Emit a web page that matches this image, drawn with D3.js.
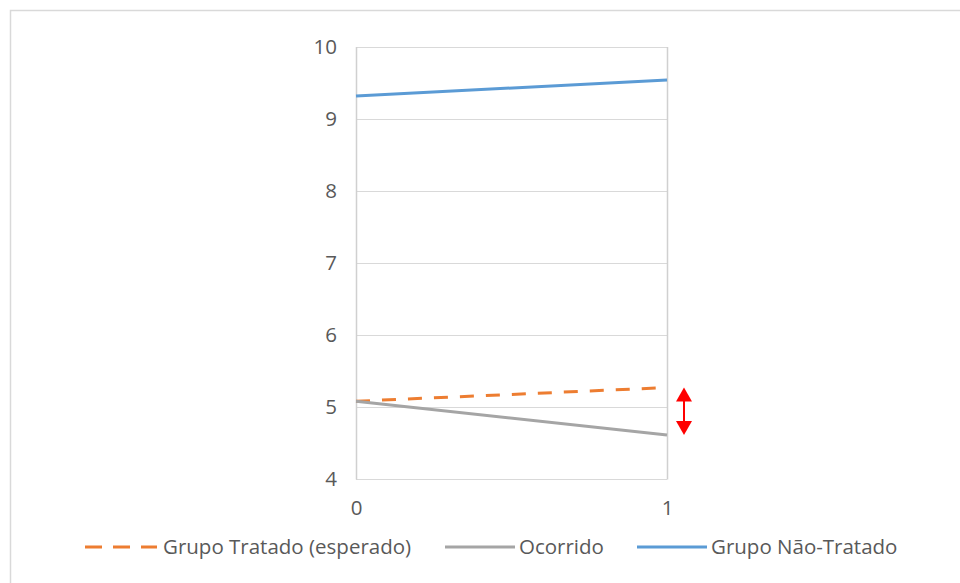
<!DOCTYPE html>
<html>
<head>
<meta charset="utf-8">
<script src="https://cdn.jsdelivr.net/npm/d3@7"></script>
<style>
  html, body { margin: 0; padding: 0; background: #fff; }
  svg { display: block; }
  text { font-family: "Open Sans", "Noto Sans", sans-serif; }
</style>
</head>
<body>
<svg id="chart" width="960" height="583"></svg>
<script>
// Periods on the x axis
const periods = [0, 1];
// Series values per period
const tratadoEsperado = [5.08, 5.27];
const ocorrido = [5.08, 4.61];
const naoTratado = [9.32, 9.54];
// Axis ticks
const yTicks = [4, 5, 6, 7, 8, 9, 10];
const xTicks = [0, 1];

const series = [
  { name: "Grupo Tratado (esperado)", values: tratadoEsperado, color: "#ED7D31", dash: "14,12", legendDash: "17,11" },
  { name: "Ocorrido", values: ocorrido, color: "#A5A5A5", dash: null, legendDash: null },
  { name: "Grupo Não-Tratado", values: naoTratado, color: "#5B9BD5", dash: null, legendDash: null }
];

const fontSize = 20.5;
const textColor = "#595959";

const svg = d3.select("#chart");

// Chart frame (left and top edges)
svg.append("path")
  .attr("d", "M10.5,583 V10.5 H960")
  .attr("fill", "none")
  .attr("stroke", "#d9d9d9")
  .attr("stroke-width", 1.5);

const x = d3.scaleLinear().domain([0, 1]).range([356, 667]);
const y = d3.scaleLinear().domain([4, 10]).range([479, 47]);

// Horizontal gridlines
svg.append("g")
  .selectAll("line")
  .data(yTicks)
  .join("line")
  .attr("x1", x(0)).attr("x2", x(1))
  .attr("y1", d => Math.round(y(d)) + 0.5)
  .attr("y2", d => Math.round(y(d)) + 0.5)
  .attr("stroke", "#d9d9d9")
  .attr("stroke-width", 1);

// Vertical axis lines at both periods
svg.append("g")
  .selectAll("line")
  .data(xTicks)
  .join("line")
  .attr("x1", d => Math.round(x(d)) + 0.5)
  .attr("x2", d => Math.round(x(d)) + 0.5)
  .attr("y1", y(10)).attr("y2", y(4) + 0.5)
  .attr("stroke", "#d0d0d0")
  .attr("stroke-width", 1.5);

// Y tick labels
const yAxis = d3.axisLeft(y).tickValues(yTicks).tickSize(0).tickPadding(19).tickFormat(d3.format("d"));
const gy = svg.append("g").attr("transform", `translate(${x(0)},0)`).call(yAxis);
gy.select(".domain").remove();
gy.selectAll("text")
  .attr("font-size", fontSize)
  .attr("fill", textColor)
  .style("font-family", "'Open Sans', sans-serif");

// X tick labels
const xAxis = d3.axisBottom(x).tickValues(xTicks).tickSize(0).tickPadding(21).tickFormat(d3.format("d"));
const gx = svg.append("g").attr("transform", `translate(0,${y(4)})`).call(xAxis);
gx.select(".domain").remove();
gx.selectAll("text")
  .attr("font-size", fontSize)
  .attr("fill", textColor)
  .style("font-family", "'Open Sans', sans-serif");

// Series lines
const line = d3.line()
  .x((d, i) => x(periods[i]))
  .y(d => y(d));

svg.append("g")
  .selectAll("path")
  .data(series)
  .join("path")
  .attr("d", d => line(d.values))
  .attr("fill", "none")
  .attr("stroke", d => d.color)
  .attr("stroke-width", 3)
  .attr("stroke-dasharray", d => d.dash)
  .attr("stroke-linecap", "butt");

// Double-headed red arrow showing the gap at the final period
const gapTop = y(tratadoEsperado[1]);
const gapBottom = y(ocorrido[1]);
const ax = x(1) + 17;
const head = 14, half = 8;
const arrow = svg.append("g").attr("fill", "#FF0000").attr("stroke", "#FF0000");
arrow.append("line")
  .attr("x1", ax).attr("x2", ax)
  .attr("y1", gapTop + head - 1).attr("y2", gapBottom - head + 1)
  .attr("stroke-width", 2);
arrow.append("path")
  .attr("stroke", "none")
  .attr("d", `M${ax},${gapTop} L${ax + half},${gapTop + head} L${ax - half},${gapTop + head} Z`);
arrow.append("path")
  .attr("stroke", "none")
  .attr("d", `M${ax},${gapBottom} L${ax + half},${gapBottom - head} L${ax - half},${gapBottom - head} Z`);

// Legend
const legendItems = [
  { s: series[0], x0: 85, x1: 157, tx: 163 },
  { s: series[1], x0: 445, x1: 515, tx: 519 },
  { s: series[2], x0: 637, x1: 707, tx: 711 }
];
const ly = 547;
const legend = svg.append("g");
legend.selectAll("line")
  .data(legendItems)
  .join("line")
  .attr("x1", d => d.x0).attr("x2", d => d.x1)
  .attr("y1", ly).attr("y2", ly)
  .attr("stroke", d => d.s.color)
  .attr("stroke-width", 3)
  .attr("stroke-dasharray", d => d.s.legendDash);
legend.selectAll("text")
  .data(legendItems)
  .join("text")
  .attr("x", d => d.tx)
  .attr("y", ly)
  .attr("dy", "0.35em")
  .attr("font-size", fontSize)
  .attr("fill", textColor)
  .text(d => d.s.name);
</script>
</body>
</html>
